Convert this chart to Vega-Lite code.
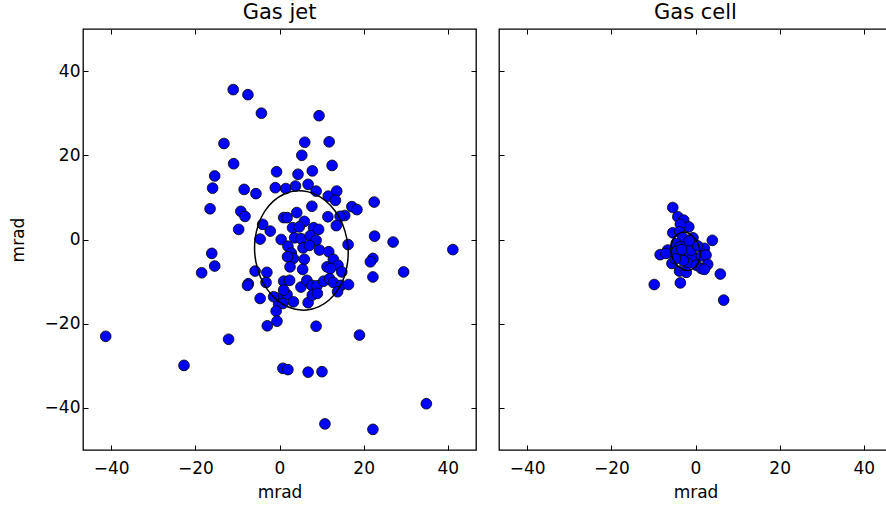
{
  "$schema": "https://vega.github.io/schema/vega-lite/v6.json",
  "background": "white",
  "padding": {"left": 8, "top": 0, "right": 0, "bottom": 0},
  "spacing": 23,
  "bounds": "flush",
  "config": {
    "font": "DejaVu Sans",
    "view": {"stroke": "black", "strokeWidth": 1.3},
    "axis": {
      "domain": false, "grid": false, "tickColor": "black", "tickSize": -5, "tickWidth": 1,
      "labelFont": "DejaVu Sans", "labelFontSize": 17, "labelColor": "black", "labelPadding": 8,
      "titleFont": "DejaVu Sans", "titleFontSize": 17, "titleFontWeight": "normal", "titleColor": "black"
    },
    "axisBottom": {"labelPadding": 15, "titlePadding": 8},
    "axisLeft": {"titlePadding": 17},
    "title": {"font": "DejaVu Sans", "fontSize": 21, "fontWeight": "normal", "color": "black", "offset": 6}
  },
  "datasets": {
    "jet": [
      {"x": -11.0, "y": 35.6}, {"x": -7.5, "y": 34.4}, {"x": -4.3, "y": 30.0}, {"x": 9.4, "y": 29.4},
      {"x": -13.2, "y": 22.8}, {"x": 6.0, "y": 23.1}, {"x": 11.8, "y": 23.2}, {"x": 5.3, "y": 20.0},
      {"x": -10.9, "y": 18.0}, {"x": 12.5, "y": 17.6}, {"x": -15.4, "y": 15.1}, {"x": -0.7, "y": 16.1},
      {"x": 4.4, "y": 15.5}, {"x": 7.8, "y": 16.3}, {"x": -15.9, "y": 12.2}, {"x": -8.4, "y": 11.9},
      {"x": -5.6, "y": 10.9}, {"x": -1.0, "y": 12.3}, {"x": 1.5, "y": 12.1}, {"x": 3.8, "y": 12.7},
      {"x": 6.8, "y": 13.1}, {"x": 8.7, "y": 11.5}, {"x": 11.6, "y": 10.3}, {"x": 13.6, "y": 11.5},
      {"x": 13.3, "y": 9.3}, {"x": -9.2, "y": 6.7}, {"x": -8.2, "y": 5.5}, {"x": 7.7, "y": 7.9},
      {"x": 17.2, "y": 7.8}, {"x": 18.4, "y": 7.1}, {"x": 15.5, "y": 5.7}, {"x": 14.4, "y": 5.5},
      {"x": 11.5, "y": 5.4}, {"x": 4.1, "y": 6.4}, {"x": 1.0, "y": 5.2}, {"x": 1.8, "y": 5.2},
      {"x": 5.9, "y": 4.3}, {"x": -4.0, "y": 3.6}, {"x": -2.2, "y": 2.0}, {"x": -9.7, "y": 2.4},
      {"x": 3.1, "y": 2.8}, {"x": 4.7, "y": 3.0}, {"x": 8.1, "y": 2.8}, {"x": 9.3, "y": 2.4},
      {"x": 13.5, "y": 3.3}, {"x": -4.6, "y": 0.1}, {"x": 0.4, "y": 0.0}, {"x": 3.6, "y": 0.4},
      {"x": 5.1, "y": 0.2}, {"x": 7.3, "y": 0.9}, {"x": 8.7, "y": -0.2}, {"x": 16.3, "y": -1.2},
      {"x": 2.0, "y": -1.6}, {"x": 5.6, "y": -2.0}, {"x": 7.1, "y": -1.4}, {"x": 9.5, "y": -2.5},
      {"x": 11.7, "y": -2.9}, {"x": 2.8, "y": -3.2}, {"x": 3.3, "y": -4.5}, {"x": 5.9, "y": -4.7},
      {"x": 1.9, "y": -4.1}, {"x": 12.8, "y": -4.7}, {"x": 13.9, "y": -6.1}, {"x": 11.3, "y": -6.5},
      {"x": 12.1, "y": -6.9}, {"x": 14.8, "y": -7.7}, {"x": 2.5, "y": -6.5}, {"x": 5.5, "y": -7.1},
      {"x": -5.8, "y": -7.5}, {"x": -3.0, "y": -7.8}, {"x": -7.4, "y": -10.5}, {"x": -7.6, "y": -10.9},
      {"x": -3.2, "y": -10.2}, {"x": 1.0, "y": -9.9}, {"x": 2.4, "y": -9.7}, {"x": 5.1, "y": -11.3},
      {"x": 6.5, "y": -9.7}, {"x": 7.7, "y": -10.9}, {"x": 8.9, "y": -11.0}, {"x": 10.5, "y": -9.9},
      {"x": 11.9, "y": -9.3}, {"x": 12.8, "y": -10.2}, {"x": 14.6, "y": -10.9}, {"x": 16.4, "y": -10.7},
      {"x": 13.8, "y": -12.4}, {"x": -4.6, "y": -14.0}, {"x": -0.6, "y": -13.9}, {"x": 1.8, "y": -13.1},
      {"x": 1.0, "y": -12.0}, {"x": -0.2, "y": -15.4}, {"x": 0.8, "y": -15.2}, {"x": 3.3, "y": -14.8},
      {"x": 6.8, "y": -15.0}, {"x": 7.8, "y": -13.2}, {"x": 9.0, "y": -12.8}, {"x": -0.8, "y": -17.0},
      {"x": -0.6, "y": -19.4}, {"x": -1.4, "y": -13.6}, {"x": -16.5, "y": 7.3}, {"x": -16.1, "y": -3.3},
      {"x": -15.4, "y": -6.3}, {"x": -18.5, "y": -7.9}, {"x": 22.5, "y": 8.9}, {"x": 22.6, "y": 0.8},
      {"x": 27.0, "y": -0.6}, {"x": 41.2, "y": -2.4}, {"x": 22.2, "y": -4.5}, {"x": 21.6, "y": -5.3},
      {"x": 29.5, "y": -7.7}, {"x": 22.2, "y": -8.9}, {"x": -41.3, "y": -23.0}, {"x": -12.1, "y": -23.7},
      {"x": -2.9, "y": -20.5}, {"x": 8.7, "y": -20.6}, {"x": 19.0, "y": -22.7}, {"x": -22.7, "y": -29.9},
      {"x": 0.8, "y": -30.6}, {"x": 2.0, "y": -30.9}, {"x": 6.8, "y": -31.5}, {"x": 10.1, "y": -31.4},
      {"x": 34.9, "y": -39.0}, {"x": 10.8, "y": -43.8}, {"x": 22.2, "y": -45.1}
    ],
    "jetEll": [
      {"i": 0, "x": 16.26, "y": -1.63}, {"i": 1, "x": 15.56, "y": 1.99}, {"i": 2, "x": 14.16, "y": 5.31},
      {"i": 3, "x": 12.14, "y": 8.09}, {"i": 4, "x": 9.66, "y": 10.13}, {"i": 5, "x": 6.87, "y": 11.31},
      {"i": 6, "x": 3.96, "y": 11.55}, {"i": 7, "x": 1.14, "y": 10.81}, {"i": 8, "x": -1.40, "y": 9.17},
      {"i": 9, "x": -3.49, "y": 6.72}, {"i": 10, "x": -4.99, "y": 3.64}, {"i": 11, "x": -5.80, "y": 0.13},
      {"i": 12, "x": -5.86, "y": -3.57}, {"i": 13, "x": -5.16, "y": -7.20}, {"i": 14, "x": -3.76, "y": -10.51},
      {"i": 15, "x": -1.74, "y": -13.29}, {"i": 16, "x": 0.74, "y": -15.34}, {"i": 17, "x": 3.53, "y": -16.51},
      {"i": 18, "x": 6.44, "y": -16.75}, {"i": 19, "x": 9.26, "y": -16.01}, {"i": 20, "x": 11.80, "y": -14.37},
      {"i": 21, "x": 13.89, "y": -11.92}, {"i": 22, "x": 15.40, "y": -8.84}, {"i": 23, "x": 16.20, "y": -5.33}
    ],
    "cell": [
      {"x": -5.4, "y": 7.6}, {"x": -4.2, "y": 5.4}, {"x": -2.8, "y": 4.6}, {"x": -1.6, "y": 3.0},
      {"x": -3.6, "y": 3.6}, {"x": -5.4, "y": 1.6}, {"x": -3.8, "y": 1.8}, {"x": -3.0, "y": 0.4},
      {"x": -0.6, "y": 0.4}, {"x": 4.0, "y": -0.2}, {"x": -4.6, "y": -1.0}, {"x": -3.8, "y": -1.8},
      {"x": -2.2, "y": -1.4}, {"x": 2.1, "y": -2.1}, {"x": -6.6, "y": -2.5}, {"x": -8.4, "y": -3.6},
      {"x": -7.0, "y": -3.3}, {"x": -2.2, "y": -3.7}, {"x": -0.6, "y": -4.1}, {"x": 1.4, "y": -3.9},
      {"x": 2.5, "y": -3.7}, {"x": -3.8, "y": -4.1}, {"x": -5.6, "y": -5.7}, {"x": -1.8, "y": -5.7},
      {"x": 0.2, "y": -6.1}, {"x": 1.4, "y": -6.9}, {"x": 2.9, "y": -5.9}, {"x": 2.1, "y": -7.1},
      {"x": -3.8, "y": -7.5}, {"x": -2.2, "y": -7.8}, {"x": 5.9, "y": -8.2}, {"x": -9.8, "y": -10.7},
      {"x": -3.6, "y": -10.3}, {"x": 6.7, "y": -14.4}, {"x": -4.4, "y": -2.8}, {"x": -1.0, "y": -2.5},
      {"x": -2.9, "y": -5.0}, {"x": -4.8, "y": -4.6}, {"x": 0.5, "y": -1.5}, {"x": -1.5, "y": -0.3},
      {"x": -3.3, "y": -2.4}
    ],
    "cellEll": [
      {"i": 0, "x": 0.92, "y": -2.06}, {"i": 1, "x": -0.02, "y": 0.08}, {"i": 2, "x": -1.60, "y": 1.46},
      {"i": 3, "x": -3.40, "y": 1.69}, {"i": 4, "x": -4.92, "y": 0.72}, {"i": 5, "x": -5.77, "y": -1.19},
      {"i": 6, "x": -5.72, "y": -3.54}, {"i": 7, "x": -4.78, "y": -5.68}, {"i": 8, "x": -3.20, "y": -7.06},
      {"i": 9, "x": -1.40, "y": -7.29}, {"i": 10, "x": 0.12, "y": -6.32}, {"i": 11, "x": 0.97, "y": -4.41}
    ]
  },
  "hconcat": [
    {
      "width": 393, "height": 421,
      "title": {"text": "Gas jet"},
      "resolve": {"axis": {"x": "independent", "y": "independent"}},
      "layer": [
        {
          "data": {"name": "jet"},
          "mark": {"type": "circle", "size": 115, "fill": "#0000ff", "stroke": "black", "strokeWidth": 0.8, "opacity": 1},
          "encoding": {
            "x": {"field": "x", "type": "quantitative", "scale": {"domain": [-46.7, 46.7], "nice": false, "zero": false},
                  "axis": {"orient": "bottom", "values": [-40, -20, 0, 20, 40], "title": "mrad"}},
            "y": {"field": "y", "type": "quantitative", "scale": {"domain": [-50, 50], "nice": false, "zero": false},
                  "axis": {"orient": "left", "values": [-40, -20, 0, 20, 40], "title": "mrad"}}
          }
        },
        {
          "data": {"name": "jetEll"},
          "mark": {"type": "line", "interpolate": "cardinal-closed", "color": "black", "strokeWidth": 1.5},
          "encoding": {
            "x": {"field": "x", "type": "quantitative", "axis": {"orient": "top", "values": [-40, -20, 0, 20, 40], "labels": false, "title": null}},
            "y": {"field": "y", "type": "quantitative", "axis": {"orient": "right", "values": [-40, -20, 0, 20, 40], "labels": false, "title": null}},
            "order": {"field": "i"}
          }
        }
      ]
    },
    {
      "width": 393, "height": 421,
      "title": {"text": "Gas cell"},
      "resolve": {"axis": {"x": "independent", "y": "independent"}},
      "layer": [
        {
          "data": {"name": "cell"},
          "mark": {"type": "circle", "size": 115, "fill": "#0000ff", "stroke": "black", "strokeWidth": 0.8, "opacity": 1},
          "encoding": {
            "x": {"field": "x", "type": "quantitative", "scale": {"domain": [-46.7, 46.7], "nice": false, "zero": false},
                  "axis": {"orient": "bottom", "values": [-40, -20, 0, 20, 40], "title": "mrad"}},
            "y": {"field": "y", "type": "quantitative", "scale": {"domain": [-50, 50], "nice": false, "zero": false},
                  "axis": {"orient": "left", "values": [-40, -20, 0, 20, 40], "labels": false, "title": null}}
          }
        },
        {
          "data": {"name": "cellEll"},
          "mark": {"type": "line", "interpolate": "cardinal-closed", "color": "black", "strokeWidth": 1.5},
          "encoding": {
            "x": {"field": "x", "type": "quantitative", "axis": {"orient": "top", "values": [-40, -20, 0, 20, 40], "labels": false, "title": null}},
            "y": {"field": "y", "type": "quantitative", "axis": {"orient": "right", "values": [-40, -20, 0, 20, 40], "labels": false, "title": null}},
            "order": {"field": "i"}
          }
        }
      ]
    }
  ]
}
